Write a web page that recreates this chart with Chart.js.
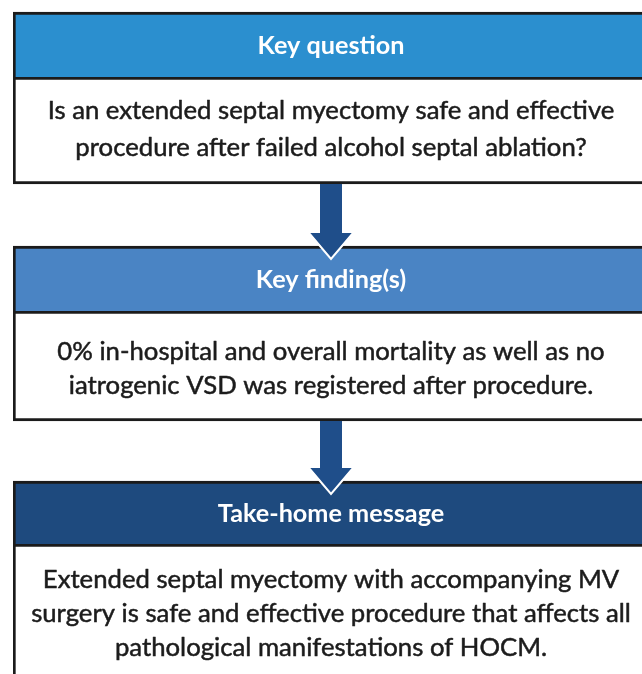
<!DOCTYPE html>
<html>
<head>
<meta charset="utf-8">
<script src="https://cdn.jsdelivr.net/npm/chart.js@4.4.1/dist/chart.umd.min.js"></script>
<style>
  html, body { margin: 0; padding: 0; background: #fff; overflow: hidden; }
  canvas { display: block; }
</style>
</head>
<body>
<canvas id="flow" width="642" height="674"></canvas>
<script>
// texts of the three sections
const headings = ['Key question', 'Key finding(s)', 'Take-home message'];
const questionLines = [
  'Is an extended septal myectomy safe and effective',
  'procedure after failed alcohol septal ablation?'
];
const findingLines = [
  '0% in-hospital and overall mortality as well as no',
  'iatrogenic VSD was registered after procedure.'
];
const messageLines = [
  'Extended septal myectomy with accompanying MV',
  'surgery is safe and effective procedure that affects all',
  'pathological manifestations of HOCM.'
];
const bodies = [questionLines, findingLines, messageLines];

// layout, in page pixels on the y axis (0 = top)
const boxTop = [12, 246, 481];
const headerBottom = [77, 311, 544];
const boxBottom = [184, 421, 712];
const firstLineOffset = [34, 41, 36];
const lineStep = [37, 34, 34];
const headerColors = ['#2b8fcf', '#4a84c4', '#1e4a7e'];
const arrowColor = '#1f4e8a';
const lineColor = '#1b1b1b';
const centerX = 331;

// each section = a coloured header bar + a white body bar, overlaid on one category
const datasets = [];
headings.forEach((h, i) => {
  datasets.push({
    label: h,
    data: [[boxTop[i], headerBottom[i]]],
    backgroundColor: headerColors[i],
    borderColor: lineColor,
    borderWidth: { top: 3, left: 3, right: 0, bottom: 0 },
    borderSkipped: false
  });
  datasets.push({
    label: h + ' body',
    data: [[headerBottom[i], boxBottom[i]]],
    backgroundColor: '#ffffff',
    borderColor: lineColor,
    borderWidth: { top: 3, left: 3, right: 0, bottom: 3 },
    borderSkipped: false
  });
});

// fit a font size so a line gets the wanted width
const fitSize = (ctx, text, weight, family, target) => {
  ctx.font = `${weight} 100px ${family}`;
  return 100 * target / ctx.measureText(text).width;
};

const flowPlugin = {
  id: 'flowPlugin',
  afterDatasetsDraw(chart) {
    const { ctx, scales: { y } } = chart;
    ctx.save();

    // arrows between the sections
    for (let i = 0; i < headings.length - 1; i++) {
      const y0 = y.getPixelForValue(boxBottom[i]);
      const tip = y.getPixelForValue(boxTop[i + 1]) + 12;
      const neck = tip - 25;
      ctx.beginPath();
      ctx.moveTo(centerX - 11, y0);
      ctx.lineTo(centerX + 11, y0);
      ctx.lineTo(centerX + 11, neck);
      ctx.lineTo(centerX + 21.5, neck);
      ctx.lineTo(centerX, tip);
      ctx.lineTo(centerX - 21.5, neck);
      ctx.lineTo(centerX - 11, neck);
      ctx.closePath();
      ctx.fillStyle = arrowColor;
      ctx.fill();
      ctx.beginPath();
      ctx.moveTo(centerX - 22.5, neck - 0.5);
      ctx.lineTo(centerX, tip + 1);
      ctx.lineTo(centerX + 22.5, neck - 0.5);
      ctx.strokeStyle = '#ffffff';
      ctx.lineWidth = 2;
      ctx.stroke();
    }

    const family = 'Lato, "Open Sans", sans-serif';
    const headSize = fitSize(ctx, headings[0], 'bold', family, 147);
    const bodySize = fitSize(ctx, questionLines[0], 'normal', family, 567);

    ctx.textAlign = 'center';
    ctx.textBaseline = 'middle';
    ctx.lineJoin = 'round';
    headings.forEach((h, i) => {
      const top = y.getPixelForValue(boxTop[i]);
      const bot = y.getPixelForValue(headerBottom[i]);
      ctx.font = `bold ${headSize}px ${family}`;
      ctx.fillStyle = '#ffffff';
      ctx.fillText(h, centerX, (top + bot) / 2 + 1);

      // body text, slightly thickened to look like the heavier original face
      ctx.font = `normal ${bodySize}px ${family}`;
      ctx.fillStyle = '#1c1c1c';
      ctx.strokeStyle = '#1c1c1c';
      ctx.lineWidth = 0.5;
      bodies[i].forEach((line, k) => {
        const ty = bot + firstLineOffset[i] + k * lineStep[i];
        ctx.fillText(line, centerX, ty);
        ctx.strokeText(line, centerX, ty);
      });
    });
    ctx.restore();
  }
};

new Chart(document.getElementById('flow'), {
  type: 'bar',
  data: { labels: [''], datasets },
  options: {
    responsive: false,
    animation: false,
    layout: { padding: { left: 13, right: 0, top: 0, bottom: 0 } },
    datasets: { bar: { barPercentage: 1, categoryPercentage: 1 } },
    scales: {
      x: { display: false, stacked: true },
      y: { display: false, min: 0, max: 674, reverse: true }
    },
    plugins: { legend: { display: false }, tooltip: { enabled: false } }
  },
  plugins: [flowPlugin]
});
</script>
</body>
</html>
